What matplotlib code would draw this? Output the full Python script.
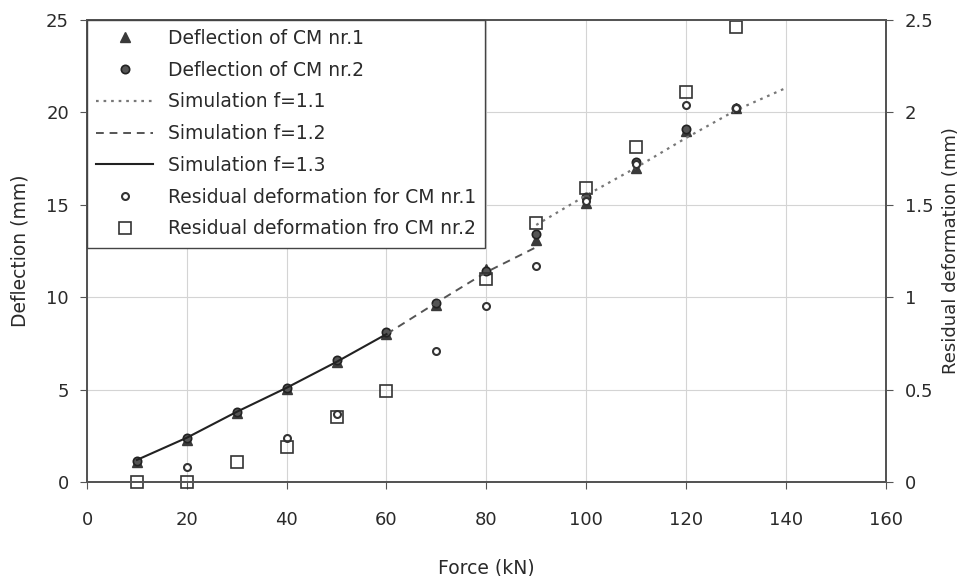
import numpy as np
import matplotlib
matplotlib.use('Agg')
import matplotlib.pyplot as plt
from matplotlib.ticker import MultipleLocator, FormatStrFormatter

# measured deflection (mm) against force (kN)
force = [10, 20, 30, 40, 50, 60, 70, 80, 90, 100, 110, 120, 130]
cm1 = [1.1, 2.3, 3.75, 5.05, 6.5, 8.0, 9.6, 11.5, 13.1, 15.1, 17.0, 19.0, 20.2]
cm2 = [1.15, 2.4, 3.8, 5.1, 6.6, 8.1, 9.7, 11.4, 13.4, 15.4, 17.3, 19.1, 20.2]

# simulations
sim11_force = [90, 100, 110, 120, 130, 140]
sim11 = [13.9, 15.5, 17.0, 18.6, 20.1, 21.3]
sim12_force = [60, 70, 80, 90]
sim12 = [8.0, 9.7, 11.35, 12.7]
sim13_force = [10, 20, 30, 40, 50, 60]
sim13 = [1.2, 2.4, 3.8, 5.1, 6.5, 8.0]

# residual deformation (mm), right axis
res1_force = [20, 40, 50, 70, 80, 90, 100, 110, 120, 130]
res1 = [0.08, 0.24, 0.37, 0.71, 0.95, 1.17, 1.52, 1.72, 2.04, 2.02]
res2_force = [10, 20, 30, 40, 50, 60, 80, 90, 100, 110, 120, 130]
res2 = [0.0, 0.0, 0.11, 0.19, 0.35, 0.49, 1.10, 1.40, 1.59, 1.81, 2.11, 2.46]

fig = plt.figure(figsize=(9.68, 5.76), dpi=100)
axe = fig.add_axes([0.0899, 0.163, 0.825, 0.803])
axe2 = axe.twinx()

spine_color = '#555555'
grid_color = '#d4d4d4'
text_color = '#2a2a2a'

axe.set_xlim(0, 160)
axe.set_ylim(0, 25)
axe2.set_ylim(0, 2.5)
axe.xaxis.set_major_locator(MultipleLocator(20))
axe.yaxis.set_major_locator(MultipleLocator(5))
axe2.yaxis.set_major_locator(MultipleLocator(0.5))
axe2.yaxis.set_major_formatter(FormatStrFormatter('%g'))
axe.grid(True, color=grid_color, linewidth=0.8)
axe.set_axisbelow(True)

for a in (axe, axe2):
    for s in a.spines.values():
        s.set_color(spine_color)
        s.set_linewidth(1.4)
    a.tick_params(labelsize=13, length=5, color=spine_color,
                  labelcolor=text_color)
axe.tick_params(axis='x', pad=16)
axe.tick_params(axis='y', pad=8)
axe2.tick_params(axis='y', pad=9)

h1, = axe.plot(force, cm1, linestyle='none', marker='^', markersize=6.5,
               color='#3a3a3a', markeredgecolor='#3a3a3a', clip_on=False,
               label='Deflection of CM nr.1')
h2, = axe.plot(force, cm2, linestyle='none', marker='o', markersize=6,
               color='#555555', markeredgecolor='#222222', markeredgewidth=1.2,
               clip_on=False, label='Deflection of CM nr.2')
h3, = axe.plot(sim11_force, sim11, linestyle=(0, (1.2, 2.2)), color='#777777',
               linewidth=1.6, label='Simulation f=1.1')
h4, = axe.plot(sim12_force, sim12, linestyle=(0, (4, 3)), color='#555555',
               linewidth=1.4, label='Simulation f=1.2')
h5, = axe.plot(sim13_force, sim13, linestyle='-', color='#222222',
               linewidth=1.5, label='Simulation f=1.3')
h6, = axe2.plot(res1_force, res1, linestyle='none', marker='o', markersize=5,
                markerfacecolor='white', markeredgecolor='#333333',
                markeredgewidth=1.5, clip_on=False,
                label='Residual deformation for CM nr.1')
h7, = axe2.plot(res2_force, res2, linestyle='none', marker='s', markersize=9,
                markerfacecolor='none', markeredgecolor='#333333',
                markeredgewidth=1.2, clip_on=False,
                label='Residual deformation fro CM nr.2')

axe.set_xlabel('Force (kN)', fontsize=13.5, color=text_color, labelpad=21)
axe.set_ylabel('Deflection (mm)', fontsize=13.5, color=text_color, labelpad=12)
axe2.set_ylabel('Residual deformation (mm)', fontsize=13, color=text_color,
                labelpad=6)

legend = axe2.legend(handles=[h1, h2, h3, h4, h5, h6, h7], loc='upper left',
                     borderaxespad=0, fontsize=13.5, fancybox=False,
                     framealpha=1, edgecolor='#444444', labelspacing=0.68,
                     handlelength=3.0, handletextpad=0.8, borderpad=0.5)
legend.get_frame().set_linewidth(1.0)
for text in legend.get_texts():
    text.set_color(text_color)

fig.savefig('out.png', dpi=100)
